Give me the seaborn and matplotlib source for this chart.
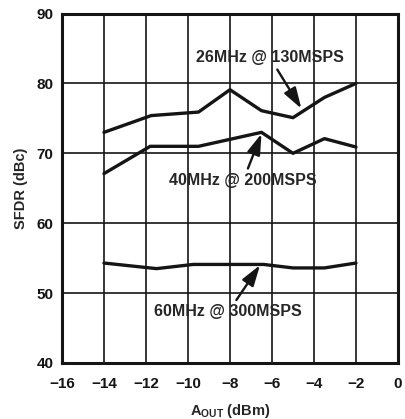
import matplotlib
matplotlib.use("Agg")
import matplotlib.pyplot as plt
import seaborn as sns
import pandas as pd

# SFDR vs output amplitude
x_26 = [-14, -11.75, -9.5, -8, -6.5, -5, -3.5, -2]
sfdr_26 = [73.0, 75.4, 75.9, 79.1, 76.1, 75.1, 78.0, 80.0]

x_40 = [-14, -11.8, -9.5, -6.5, -5, -3.5, -2]
sfdr_40 = [67.1, 71.0, 71.0, 73.0, 70.0, 72.1, 70.9]

x_60 = [-14, -11.5, -9.75, -8, -6.4, -5, -3.5, -2]
sfdr_60 = [54.3, 53.5, 54.1, 54.1, 54.1, 53.6, 53.6, 54.3]

labels = ["26MHz @ 130MSPS", "40MHz @ 200MSPS", "60MHz @ 300MSPS"]

sns.set_style("white")
plt.rcParams["font.family"] = ["Liberation Sans", "DejaVu Sans"]
plt.rcParams["font.weight"] = "bold"
plt.rcParams["mathtext.fontset"] = "custom"
plt.rcParams["mathtext.rm"] = "Liberation Sans:bold"
plt.rcParams["mathtext.bf"] = "Liberation Sans:bold"

df = pd.concat([
    pd.DataFrame({"x": x_26, "y": sfdr_26, "s": labels[0]}),
    pd.DataFrame({"x": x_40, "y": sfdr_40, "s": labels[1]}),
    pd.DataFrame({"x": x_60, "y": sfdr_60, "s": labels[2]}),
])

fig = plt.figure(figsize=(4.06, 4.19), dpi=100)
ax = fig.add_axes([0.1527, 0.1337, 0.8275, 0.834])

sns.lineplot(data=df, x="x", y="y", hue="s", palette=["#151515"] * 3,
             linewidth=2.4, legend=False, ax=ax, sort=False)

ax.set_xlim(-16, 0)
ax.set_ylim(40, 90)
ax.set_xticks(range(-16, 1, 2))
ax.set_yticks(range(40, 91, 10))
ax.grid(True, color="#151515", linewidth=1.2)
for sp in ax.spines.values():
    sp.set_linewidth(2.2)
    sp.set_color("#151515")
ax.tick_params(length=0, labelsize=11, colors="#151515")
ax.tick_params(axis="x", pad=10)
ax.tick_params(axis="y", pad=6)
for t in ax.get_xticklabels() + ax.get_yticklabels():
    t.set_fontweight("bold")

ax.set_xlabel(r"$\mathregular{A_{OUT}}$ (dBm)", fontsize=10.5, fontweight="bold", labelpad=8)
ax.set_ylabel("SFDR (dBc)", fontsize=10.5, fontweight="bold", labelpad=6)

arrow = dict(arrowstyle="-|>,head_length=1.1,head_width=0.35", color="#151515", lw=1.7,
             shrinkA=1, shrinkB=0)
ax.annotate(labels[0], xy=(-4.6, 76.4), xytext=(-6.1, 83.7), ha="center", va="center",
            fontsize=11.5, fontweight="bold", arrowprops=arrow)
ax.annotate(labels[1], xy=(-6.5, 72.8), xytext=(-7.37, 66.1), ha="center", va="center",
            fontsize=11.5, fontweight="bold", arrowprops=arrow)
ax.annotate(labels[2], xy=(-6.57, 54.0), xytext=(-8.08, 47.3), ha="center", va="center",
            fontsize=11.5, fontweight="bold", arrowprops=arrow)

fig.savefig("out.png", dpi=100)
